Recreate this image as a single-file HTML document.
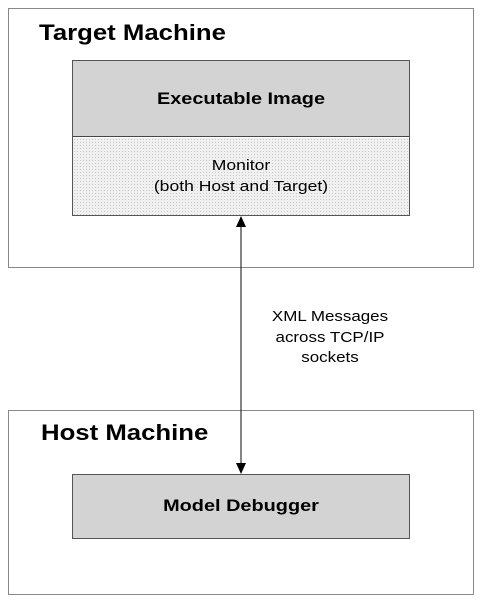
<!DOCTYPE html>
<html><head><style>
body{margin:0;width:500px;height:604px;background:#fff;position:relative;font-family:"Liberation Sans",Arial,sans-serif;overflow:hidden}
.a{position:absolute;box-sizing:border-box}
.dots{background-color:#f0f0f0;background-image:radial-gradient(#c8c8c8 0.6px,transparent 0.7px);background-size:3px 3px}
.t{position:absolute;white-space:nowrap}
.c{transform:scaleX(1.17);transform-origin:center}
.l{transform:scaleX(1.17);transform-origin:left}
</style></head><body>
<div class="a" style="left:8px;top:8px;width:466px;height:260px;border:1px solid #888"></div>
<div class="t l" style="left:39px;top:20px;font-size:22px;line-height:26px;font-weight:bold">Target Machine</div>
<div class="a" style="left:72px;top:60px;width:338px;height:156px;border:1px solid #555"></div>
<div class="a" style="left:73px;top:61px;width:336px;height:76px;background:#d3d3d3;border-bottom:1px solid #444"></div>
<div class="t c" style="left:73px;width:336px;text-align:center;top:88px;font-size:17px;line-height:22px;font-weight:bold">Executable Image</div>
<div class="a dots" style="left:73px;top:138px;width:336px;height:77px"></div>
<div class="t c" style="left:73px;width:336px;text-align:center;top:155px;font-size:15px;line-height:21px">Monitor<br>(both Host and Target)</div>
<div class="a" style="left:8px;top:410px;width:466px;height:185px;border:1px solid #888"></div>
<div class="t l" style="left:41px;top:420px;font-size:22px;line-height:26px;font-weight:bold">Host Machine</div>
<div class="a" style="left:72px;top:474px;width:338px;height:65px;background:#d3d3d3;border:1px solid #555"></div>
<div class="t c" style="left:73px;width:336px;text-align:center;top:495px;font-size:17px;line-height:22px;font-weight:bold">Model Debugger</div>
<div class="t" style="left:270px;width:120px;text-align:center;top:307px;font-size:15px;line-height:20.5px;transform:scaleX(1.13)">XML Messages<br>across TCP/IP<br>sockets</div>
<svg class="a" style="left:0;top:0" width="500" height="604">
<line x1="241" y1="225" x2="241" y2="465" stroke="#333" stroke-width="1.2"/>
<polygon points="241,216 236,227 246,227" fill="#000"/>
<polygon points="241,474 236,463 246,463" fill="#000"/>
</svg>
</body></html>
